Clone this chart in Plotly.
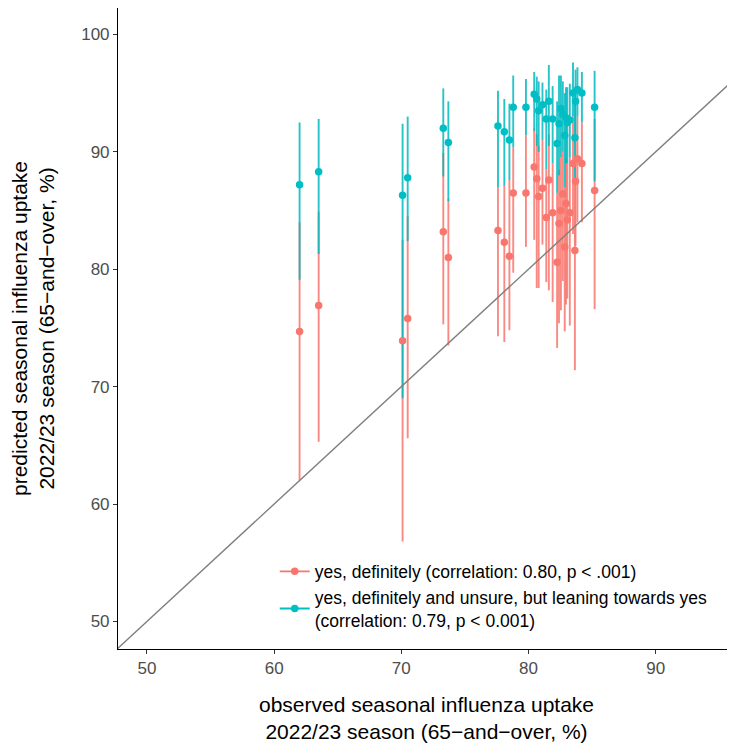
import plotly.graph_objects as go

# regions: observed uptake (x)
observed = [62.0, 63.5, 70.1, 70.5, 73.3, 73.7, 77.6, 78.1, 78.5, 78.8, 79.8, 80.45, 80.65, 80.8,
            81.1, 81.4, 81.6, 81.9, 82.25, 82.4, 82.55, 82.7, 82.85, 82.95, 83.05, 83.25, 83.5,
            83.65, 83.7, 83.85, 84.2, 85.2]

# "yes, definitely"
def_val = [74.7, 76.9, 73.9, 75.8, 83.2, 81.0, 83.3, 82.3, 81.1, 86.5, 86.5, 88.7, 87.7, 86.2,
           86.9, 84.4, 87.6, 84.8, 80.6, 83.9, 85.0, 86.4, 81.9, 85.6, 84.2, 84.8, 89.0,
           81.6, 87.5, 89.4, 89.0, 86.7]
def_lo = [62.0, 65.3, 56.8, 65.6, 75.3, 73.5, 74.3, 73.8, 74.8, 79.7, 81.9, 82.5, 78.4, 78.4,
          82.1, 78.9, 78.2, 77.2, 73.3, 75.4, 76.5, 79.0, 74.7, 77.0, 77.5, 75.2, 83.0,
          71.4, 82.0, 84.0, 84.0, 76.6]
def_hi = [84.0, 84.9, 82.5, 84.5, 89.9, 86.0, 87.0, 87.1, 87.6, 90.4, 91.4, 92.0, 91.5, 90.5,
          91.0, 88.5, 91.5, 89.0, 86.5, 88.5, 89.5, 90.0, 87.0, 89.5, 89.0, 89.5, 93.0,
          87.5, 91.5, 93.0, 92.5, 92.8]

# "yes, definitely and unsure, but leaning towards yes"
lean_val = [87.2, 88.3, 86.3, 87.8, 92.0, 90.8, 92.2, 91.7, 91.0, 93.8, 93.8, 94.9, 94.5, 93.5,
            94.0, 92.8, 94.3, 92.8, 90.7, 92.4, 93.7, 93.2, 91.4, 92.9, 92.5, 92.7, 95.0,
            91.2, 94.3, 95.3, 95.0, 93.8]
lean_lo = [79.1, 81.3, 69.0, 82.4, 87.9, 85.8, 87.0, 87.1, 87.6, 90.4, 91.4, 91.8, 90.5, 90.0,
           91.0, 88.5, 90.5, 89.0, 86.5, 88.0, 89.5, 90.0, 87.0, 89.0, 89.0, 89.5, 93.0,
           87.5, 91.5, 93.0, 92.5, 87.5]
lean_hi = [92.5, 92.8, 92.4, 93.0, 95.4, 94.3, 95.2, 94.5, 94.1, 96.5, 96.2, 96.8, 96.4, 96.0,
           95.9, 95.3, 97.4, 95.6, 94.3, 96.5, 96.5, 96.0, 95.0, 95.5, 95.5, 95.8, 97.6,
           94.8, 97.0, 97.2, 96.8, 96.9]

x_range = [47.72, 96.24]
y_range = [47.65, 102.25]
x_ticks = [50, 60, 70, 80, 90]
y_ticks = [50, 60, 70, 80, 90, 100]

label_def = "yes, definitely (correlation: 0.80, p < .001)"
label_lean = "yes, definitely and unsure, but leaning towards yes<br>(correlation: 0.79, p < 0.001)"

RED = "#F8766D"
TEAL = "#00BFC4"
FONT = "Liberation Sans, Arial, Helvetica, sans-serif"

fig = go.Figure()

def bars(vals, lo, hi, color):
    return go.Scatter(
        x=observed, y=vals, mode="markers",
        marker=dict(size=1, opacity=0),
        error_y=dict(type="data", symmetric=False,
                     array=[h - v for h, v in zip(hi, vals)],
                     arrayminus=[v - l for v, l in zip(vals, lo)],
                     color=color, thickness=1.9, width=0),
        showlegend=False, hoverinfo="skip")

fig.add_trace(bars(def_val, def_lo, def_hi, "rgba(248,118,109,0.85)"))
fig.add_trace(bars(lean_val, lean_lo, lean_hi, "rgba(0,185,190,0.85)"))

# identity line
fig.add_trace(go.Scatter(x=[40, 110], y=[40, 110], mode="lines",
                         line=dict(color="#7f7f7f", width=1.4),
                         showlegend=False, hoverinfo="skip"))

def interleave(a):
    out = []
    for v in a:
        out += [v, None]
    return out

fig.add_trace(go.Scatter(x=interleave(observed), y=interleave(def_val), mode="lines+markers",
                         connectgaps=False,
                         marker=dict(size=7.5, color=RED), line=dict(color=RED, width=1.9),
                         name=label_def))
fig.add_trace(go.Scatter(x=interleave(observed), y=interleave(lean_val), mode="lines+markers",
                         connectgaps=False,
                         marker=dict(size=7.5, color=TEAL), line=dict(color=TEAL, width=1.9),
                         name=label_lean))

axis_common = dict(showgrid=False, zeroline=False, showline=True, linecolor="black", linewidth=1.1,
                   ticks="outside", ticklen=4, tickcolor="#333333", tickwidth=1.1,
                   tickfont=dict(family=FONT, size=17, color="#4d4d4d"))

# page body adds an 8px margin, so the figure is sized 8px smaller
fig.update_layout(
    width=727, height=736,
    margin=dict(l=110, r=0, t=0, b=95),
    paper_bgcolor="white", plot_bgcolor="white",
    font=dict(family=FONT, color="black"),
    xaxis=dict(range=x_range, tickvals=x_ticks,
               title=dict(text="observed seasonal influenza uptake<br>2022/23 season (65\u2212and\u2212over, %)",
                          font=dict(size=21, color="black"), standoff=19),
               **axis_common),
    yaxis=dict(range=y_range, tickvals=y_ticks,
               title=dict(text="predicted seasonal influenza uptake<br>2022/23 season (65\u2212and\u2212over, %)",
                          font=dict(size=21, color="black"), standoff=22),
               **axis_common),
    legend=dict(x=0.254, y=0.149, xanchor="left", yanchor="top",
                bgcolor="rgba(0,0,0,0)", font=dict(size=17.5, color="black"),
                tracegroupgap=0, itemwidth=30),
)

fig.write_html("out.html")
